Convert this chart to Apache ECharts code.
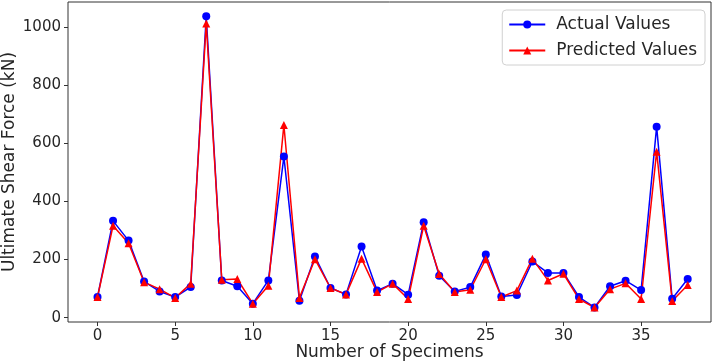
<!DOCTYPE html>
<html>
<head>
<meta charset="utf-8">
<script src="https://cdn.jsdelivr.net/npm/echarts@6/dist/echarts.min.js"></script>
<style>
  html, body { margin: 0; padding: 0; background: #fff; }
  #main { width: 715px; height: 364px; }
</style>
</head>
<body>
<div id="main"></div>
<script>
// values
const actualValues = [71, 333, 265, 124, 90, 71, 105, 1037, 128, 108, 48, 128, 554, 58, 210, 102, 80, 245, 93, 117, 79, 328, 144, 90, 105, 217, 73, 78, 193, 154, 154, 71, 35, 108, 127, 95, 657, 65, 133]
const predictedValues = [71, 316, 256, 122, 98, 68, 117, 1012, 130, 133, 48, 110, 663, 68, 201, 102, 80, 203, 88, 117, 64, 316, 150, 88, 96, 201, 71, 93, 203, 128, 151, 64, 35, 98, 118, 64, 571, 57, 112]
const xTicks = [0, 5, 10, 15, 20, 25, 30, 35]
const yTicks = [0, 200, 400, 600, 800, 1000]

const font = 'DejaVu Sans'
const textColor = '#262626'

const chart = echarts.init(document.getElementById('main'))

const toPoints = (arr) => arr.map((v, i) => [i, v])

const option = {
  animation: false,
  textStyle: { fontFamily: font },
  grid: {
    left: 68,
    right: 4,
    top: 2,
    bottom: 42,
    outerBoundsMode: 'none',
    containLabel: false,
    show: true,
    borderColor: '#333',
    borderWidth: 1
  },
  legend: {
    orient: 'vertical',
    right: 10,
    top: 10,
    padding: [6, 8, 6, 6],
    itemGap: 9,
    itemWidth: 36,
    itemHeight: 10,
    borderColor: '#d0d0d0',
    borderWidth: 1,
    borderRadius: 4,
    textStyle: { fontFamily: font, fontSize: 17, color: textColor, padding: [0, 0, 0, 6] },
    data: ['Actual Values', 'Predicted Values']
  },
  xAxis: {
    type: 'value',
    min: -1.9,
    max: 39.5,
    name: 'Number of Specimens',
    nameLocation: 'middle',
    nameGap: 22,
    nameMoveOverlap: false,
    nameTextStyle: { fontFamily: font, fontSize: 17, color: textColor },
    axisLine: { show: false, onZero: false },
    splitLine: { show: false },
    axisTick: { show: true, customValues: xTicks, length: 4, inside: false, lineStyle: { color: '#333' } },
    axisLabel: { customValues: xTicks, fontFamily: font, fontSize: 15, color: textColor, margin: 7 }
  },
  yAxis: {
    type: 'value',
    min: -15,
    max: 1086,
    name: 'Ultimate Shear Force (kN)',
    nameLocation: 'middle',
    nameGap: 50,
    nameMoveOverlap: false,
    nameTextStyle: { fontFamily: font, fontSize: 17, color: textColor },
    axisLine: { show: false, onZero: false },
    splitLine: { show: false },
    axisTick: { show: true, customValues: yTicks, length: 4, inside: false, lineStyle: { color: '#333' } },
    axisLabel: { customValues: yTicks, formatter: (v) => String(v), fontFamily: font, fontSize: 15, color: textColor, margin: 7 }
  },
  series: [
    {
      name: 'Actual Values',
      type: 'line',
      data: toPoints(actualValues),
      symbol: 'circle',
      symbolSize: 8,
      showAllSymbol: true,
      itemStyle: { color: '#0000ff' },
      lineStyle: { color: '#0000ff', width: 1.5 }
    },
    {
      name: 'Predicted Values',
      type: 'line',
      data: toPoints(predictedValues),
      symbol: 'triangle',
      symbolSize: 8,
      showAllSymbol: true,
      itemStyle: { color: '#ff0000' },
      lineStyle: { color: '#ff0000', width: 1.5 }
    }
  ]
}

chart.setOption(option)
</script>
</body>
</html>
